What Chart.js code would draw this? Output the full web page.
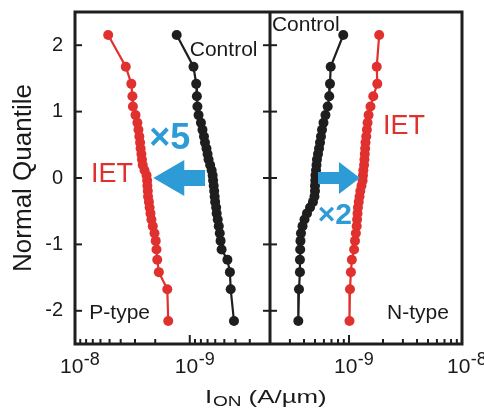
<!DOCTYPE html>
<html>
<head>
<meta charset="utf-8">
<script src="https://cdn.jsdelivr.net/npm/chart.js@4.4.1/dist/chart.umd.min.js"></script>
<style>
  html, body { margin: 0; padding: 0; background: #fff; }
  #wrap { width: 484px; height: 408px; }
</style>
</head>
<body>
<div id="wrap"><canvas id="chartCanvas" width="484" height="408"></canvas></div>
<script>
// normal quantile of each of the 32 devices (top to bottom)
const quantiles = [2.154, 1.676, 1.418, 1.230, 1.078, 0.947, 0.831, 0.725, 0.626, 0.533, 0.445, 0.360, 0.278, 0.197, 0.118, 0.039,
  -0.039, -0.118, -0.197, -0.278, -0.360, -0.445, -0.533, -0.626, -0.725, -0.831, -0.947, -1.078, -1.230, -1.418, -1.676, -2.154];

// |I_ON| in A/um
const pIET = [5.14e-9, 3.61e-9, 3.23e-9, 3.16e-9, 3.13e-9, 2.97e-9, 2.86e-9, 2.80e-9, 2.75e-9, 2.71e-9, 2.68e-9, 2.64e-9, 2.61e-9, 2.57e-9, 2.48e-9, 2.38e-9,
  2.35e-9, 2.34e-9, 2.32e-9, 2.31e-9, 2.27e-9, 2.24e-9, 2.20e-9, 2.16e-9, 2.10e-9, 2.03e-9, 1.98e-9, 1.95e-9, 1.92e-9, 1.86e-9, 1.57e-9, 1.54e-9];
const pControl = [1.30e-9, 9.28e-10, 8.79e-10, 8.67e-10, 8.58e-10, 8.38e-10, 7.99e-10, 7.75e-10, 7.52e-10, 7.37e-10, 7.15e-10, 7.00e-10, 6.86e-10, 6.65e-10, 6.45e-10, 6.32e-10,
  6.26e-10, 6.19e-10, 6.13e-10, 6.07e-10, 6.01e-10, 5.89e-10, 5.83e-10, 5.71e-10, 5.59e-10, 5.48e-10, 5.39e-10, 5.28e-10, 4.70e-10, 4.47e-10, 4.40e-10, 4.12e-10];
const nControl = [8.90e-10, 6.89e-10, 6.79e-10, 6.69e-10, 6.48e-10, 6.19e-10, 5.95e-10, 5.77e-10, 5.65e-10, 5.54e-10, 5.43e-10, 5.32e-10, 5.21e-10, 5.16e-10, 5.11e-10, 5.05e-10,
  5.03e-10, 5.00e-10, 5.00e-10, 4.95e-10, 4.80e-10, 4.52e-10, 4.25e-10, 4.04e-10, 3.88e-10, 3.76e-10, 3.72e-10, 3.70e-10, 3.68e-10, 3.68e-10, 3.61e-10, 3.56e-10];
const nIET = [1.85e-9, 1.76e-9, 1.78e-9, 1.64e-9, 1.55e-9, 1.49e-9, 1.46e-9, 1.44e-9, 1.42e-9, 1.40e-9, 1.39e-9, 1.38e-9, 1.37e-9, 1.36e-9, 1.34e-9, 1.33e-9,
  1.32e-9, 1.29e-9, 1.26e-9, 1.24e-9, 1.22e-9, 1.20e-9, 1.19e-9, 1.18e-9, 1.17e-9, 1.15e-9, 1.13e-9, 1.11e-9, 1.06e-9, 1.04e-9, 1.02e-9, 1.01e-9];

const yTicks = [-2, -1, 0, 1, 2];
const xRange = [2e-10, 1e-8];
const xLabelValues = [1e-8, 1e-9];
const xLabelExps = ['-8', '-9'];

const FONT = "'Liberation Sans', Arial, sans-serif";
const RED = '#e0312f';
const BLACK = '#1e1e1e';
const BLUE = '#2d9bd6';
const TEXT = '#1a1a1a';

const notes = [
  { axis: 'x1', x: 1e-9, y: 1.92, text: 'Control', color: TEXT, font: '21px', align: 'left' },
  { axis: 'x1', x: 3.13e-9, y: 0.05, text: 'IET', color: RED, font: '27px', align: 'right' },
  { axis: 'x1', x: 2.26e-9, y: 0.59, text: '×5', color: BLUE, font: 'bold 36px', align: 'left' },
  { axis: 'x1', x: 7.5e-9, y: -2.03, text: 'P-type', color: TEXT, font: '21px', align: 'left' },
  { axis: 'x2', x: 2.08e-10, y: 2.30, text: 'Control', color: TEXT, font: '21px', align: 'left' },
  { axis: 'x2', x: 2.0e-9, y: 0.78, text: 'IET', color: RED, font: '27px', align: 'left' },
  { axis: 'x2', x: 5.3e-10, y: -0.57, text: '×2', color: BLUE, font: 'bold 30px', align: 'left' },
  { axis: 'x2', x: 2.17e-9, y: -2.03, text: 'N-type', color: TEXT, font: '21px', align: 'left' }
];
const arrows = [
  { axis: 'x1', from: 7.36e-10, to: 2.08e-9, y: 0, shaft: 8, head: 18, headLen: 31 },
  { axis: 'x2', from: 5.32e-10, to: 1.25e-9, y: 0, shaft: 6, head: 16, headLen: 21 }
];

function series(xs, axis, color) {
  return {
    data: xs.map((v, i) => ({ x: v, y: quantiles[i] })),
    xAxisID: axis,
    yAxisID: 'y',
    borderColor: color,
    backgroundColor: color,
    borderWidth: 2.2,
    pointRadius: 5,
    pointBorderWidth: 0,
    pointBackgroundColor: color
  };
}

function xScale(weight, reverse) {
  return {
    type: 'logarithmic',
    position: 'bottom',
    stack: 'current',
    stackWeight: weight,
    reverse: reverse,
    min: xRange[0],
    max: xRange[1],
    afterBuildTicks: function (s) {
      const t = [];
      [-10, -9].forEach(function (e) {
        for (let m = 1; m <= 9; m++) {
          const v = m * Math.pow(10, e);
          if (v >= xRange[0] * 0.999 && v <= xRange[1]) t.push({ value: v, major: m === 1 });
        }
      });
      t.push({ value: xRange[1], major: true });
      s.ticks = t;
    },
    afterFit: function (s) { s.height = 64; s.paddingLeft = 0; s.paddingRight = 0; },
    ticks: { display: false },
    grid: { display: false, drawTicks: false },
    border: { display: false }
  };
}

const panelFrame = {
  id: 'panelFrame',
  afterDraw(chart) {
    const { ctx, chartArea: a, scales } = chart;
    const y = scales.y;
    const mid = scales.x1.right;
    const line = (x0, y0, x1, y1) => { ctx.beginPath(); ctx.moveTo(x0, y0); ctx.lineTo(x1, y1); ctx.stroke(); };
    ctx.save();

    // blue arrows
    ctx.fillStyle = BLUE;
    arrows.forEach(function (r) {
      const s = scales[r.axis];
      const tail = s.getPixelForValue(r.from), tip = s.getPixelForValue(r.to), py = y.getPixelForValue(r.y);
      const d = tip > tail ? 1 : -1;
      const hx = tip - d * r.headLen;
      ctx.beginPath();
      ctx.moveTo(tail, py - r.shaft);
      ctx.lineTo(hx, py - r.shaft);
      ctx.lineTo(hx, py - r.head);
      ctx.lineTo(tip, py);
      ctx.lineTo(hx, py + r.head);
      ctx.lineTo(hx, py + r.shaft);
      ctx.lineTo(tail, py + r.shaft);
      ctx.closePath();
      ctx.fill();
    });

    // annotations
    ctx.textBaseline = 'middle';
    notes.forEach(function (n) {
      ctx.font = n.font + ' ' + FONT;
      ctx.fillStyle = n.color;
      ctx.textAlign = n.align;
      ctx.fillText(n.text, scales[n.axis].getPixelForValue(n.x), y.getPixelForValue(n.y));
    });

    // frame and divider
    ctx.strokeStyle = BLACK;
    ctx.lineWidth = 3;
    ctx.strokeRect(a.left, a.top, a.width, a.height);
    line(mid, a.top, mid, a.bottom);

    // inward y ticks
    ctx.lineWidth = 2;
    yTicks.forEach(function (v) {
      const py = y.getPixelForValue(v);
      line(a.left, py, a.left + 7, py);
      line(mid - 7, py, mid + 7, py);
    });

    // inward x ticks
    ['x1', 'x2'].forEach(function (id) {
      const s = scales[id];
      s.ticks.forEach(function (t) {
        if (t.value <= xRange[0] * 1.001 || t.value >= xRange[1] * 0.999) return;
        const px = s.getPixelForValue(t.value);
        line(px, a.bottom, px, a.bottom - (t.major ? 9 : 5));
      });
    });

    // x tick labels 10^n
    ctx.fillStyle = TEXT;
    ctx.textAlign = 'left';
    ctx.textBaseline = 'alphabetic';
    ['x1', 'x2'].forEach(function (id) {
      const s = scales[id];
      xLabelValues.forEach(function (v, i) {
        const px = s.getPixelForValue(v) - 15;
        ctx.font = '21px ' + FONT;
        ctx.fillText('10', px, a.bottom + 29);
        const w = ctx.measureText('10').width;
        ctx.font = '18px ' + FONT;
        ctx.fillText(xLabelExps[i], px + w + 0.5, a.bottom + 21);
      });
    });

    // x title I_ON (A/um), drawn a little wide like the original
    const sx = 1.36;
    ctx.font = '19px ' + FONT;
    const wI = ctx.measureText('I').width;
    const wRest = ctx.measureText(' (A/µm)').width;
    ctx.font = '14px ' + FONT;
    const wSub = ctx.measureText('ON').width;
    const total = (wI + wSub + wRest) * sx;
    ctx.translate((a.left + a.right) / 2 - total / 2 - 3, 0);
    ctx.scale(sx, 1);
    ctx.font = '19px ' + FONT;
    ctx.fillText('I', 0, 403);
    ctx.font = '14px ' + FONT;
    ctx.fillText('ON', wI + 0.5, 406);
    ctx.font = '19px ' + FONT;
    ctx.fillText(' (A/µm)', wI + wSub + 0.5, 403);

    ctx.restore();
  }
};

const chart = new Chart(document.getElementById('chartCanvas').getContext('2d'), {
  type: 'line',
  data: {
    datasets: [
      series(pIET, 'x1', RED),
      series(pControl, 'x1', BLACK),
      series(nControl, 'x2', BLACK),
      series(nIET, 'x2', RED)
    ]
  },
  options: {
    responsive: false,
    animation: false,
    events: [],
    layout: { padding: { top: 12, right: 22, bottom: 0, left: 0 } },
    plugins: { legend: { display: false }, tooltip: { enabled: false } },
    scales: {
      x1: xScale(195, true),
      x2: xScale(192, false),
      y: {
        type: 'linear',
        position: 'left',
        min: -2.5,
        max: 2.5,
        afterBuildTicks: function (s) { s.ticks = yTicks.map(v => ({ value: v })); },
        afterFit: function (s) { s.width = 75; s.paddingTop = 0; s.paddingBottom = 0; },
        ticks: { font: { family: FONT, size: 20 }, color: TEXT, padding: 12 },
        grid: { display: false, drawTicks: false },
        border: { display: false },
        title: {
          display: true,
          text: 'Normal Quantile',
          font: { family: FONT, size: 26 },
          color: TEXT,
          padding: { top: 8, bottom: 0 }
        }
      }
    }
  },
  plugins: [panelFrame]
});
</script>
</body>
</html>
